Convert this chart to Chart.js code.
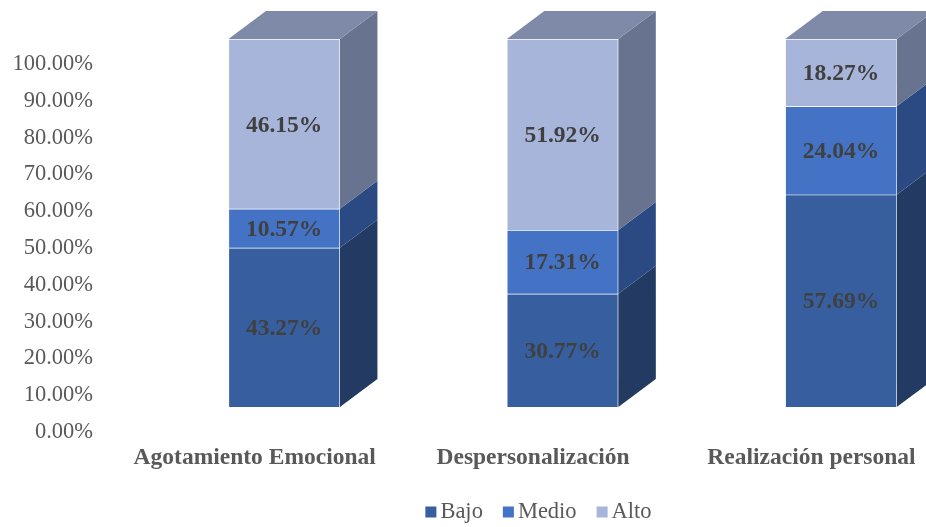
<!DOCTYPE html>
<html>
<head>
<meta charset="utf-8">
<script src="https://cdn.jsdelivr.net/npm/chart.js@4.4.1/dist/chart.umd.min.js"></script>
<style>
  html, body { margin: 0; padding: 0; background: #fff; }
  #wrap { width: 926px; height: 527px; position: relative; }
</style>
</head>
<body>
<div id="wrap"><canvas id="burnoutChart"></canvas></div>
<script>
// ── Data ───────────────────────────────────────────────
const categories = ["Agotamiento Emocional", "Despersonalización", "Realización personal"];
const levels     = ["Bajo", "Medio", "Alto"];
const bajo       = [43.27, 30.77, 57.69];
const medio      = [10.57, 17.31, 24.04];
const alto       = [46.15, 51.92, 18.27];
const yTicks     = [0, 10, 20, 30, 40, 50, 60, 70, 80, 90, 100];

// front / side / top face colours per level
const frontClr = ["#375f9f", "#4472c4", "#a7b5da"];
const sideClr  = ["#233b62", "#2b4a84", "#68748f"];
const topClr   = ["#2f5088", "#3a64ac", "#7f8aa8"];

const DEPTH_X = 37.5;
const DEPTH_Y = 28;
const serif = "'Liberation Serif', 'Times New Roman', serif";

// ── 3D faces + value labels ────────────────────────────
const boxes3d = {
  id: "boxes3d",
  afterDatasetsDraw(chart) {
    const ctx = chart.ctx;
    const last = chart.data.datasets.length - 1;
    ctx.save();
    chart.data.datasets.forEach(function (ds, di) {
      chart.getDatasetMeta(di).data.forEach(function (bar) {
        const p = bar.getProps(["x", "y", "base", "width"], true);
        const l = p.x - p.width / 2, r = p.x + p.width / 2;
        // side face
        ctx.beginPath();
        ctx.moveTo(r, p.y);
        ctx.lineTo(r + DEPTH_X, p.y - DEPTH_Y);
        ctx.lineTo(r + DEPTH_X, p.base - DEPTH_Y);
        ctx.lineTo(r, p.base);
        ctx.closePath();
        ctx.fillStyle = sideClr[di];
        ctx.fill();
        // top face on the highest segment
        if (di === last) {
          ctx.beginPath();
          ctx.moveTo(l, p.y);
          ctx.lineTo(l + DEPTH_X, p.y - DEPTH_Y);
          ctx.lineTo(r + DEPTH_X, p.y - DEPTH_Y);
          ctx.lineTo(r, p.y);
          ctx.closePath();
          ctx.fillStyle = topClr[di];
          ctx.fill();
        }
      });
    });
    // values on the front faces
    ctx.font = "bold 23.5px " + serif;
    ctx.fillStyle = "#404040";
    ctx.textAlign = "center";
    ctx.textBaseline = "middle";
    chart.data.datasets.forEach(function (ds, di) {
      chart.getDatasetMeta(di).data.forEach(function (bar, i) {
        const p = bar.getProps(["x", "y", "base"], true);
        ctx.fillText(ds.data[i].y.toFixed(2) + "%", p.x, (p.y + p.base) / 2 + 1.5);
      });
    });
    ctx.restore();
  }
};

// ── Legend (square + label, tight spacing) ────────────
const squareLegend = {
  id: "squareLegend",
  afterDraw(chart) {
    const ctx = chart.ctx;
    const box = 11, gap = 4, spacing = 20, cy = 512;
    ctx.save();
    ctx.font = "22.5px " + serif;
    const widths = levels.map(function (t) { return ctx.measureText(t).width; });
    let total = 0;
    widths.forEach(function (w, i) { total += box + gap + w + (i < widths.length - 1 ? spacing : 0); });
    let x = 538.5 - total / 2;
    ctx.textBaseline = "middle";
    ctx.textAlign = "left";
    levels.forEach(function (t, i) {
      ctx.fillStyle = frontClr[i];
      ctx.fillRect(x, cy - box / 2, box, box);
      ctx.fillStyle = "#595959";
      ctx.fillText(t, x + box + gap, cy);
      x += box + gap + widths[i] + spacing;
    });
    ctx.restore();
  }
};

const series = [bajo, medio, alto];

new Chart(document.getElementById("burnoutChart"), {
  type: "bar",
  data: {
    datasets: levels.map(function (name, i) {
      return {
        label: name,
        data: series[i].map(function (v, k) { return { x: k, y: v }; }),
        backgroundColor: frontClr[i],
        borderColor: "rgba(255,255,255,0.18)",
        borderWidth: 1,
        barThickness: 111.5,
      };
    })
  },
  options: {
    responsive: true,
    maintainAspectRatio: false,
    animation: false,
    layout: { padding: { top: 39, left: 0, right: 0, bottom: 0 } },
    plugins: {
      legend: { display: false },
      tooltip: { enabled: false }
    },
    scales: {
      x: {
        type: "linear",
        stacked: true,
        offset: false,
        min: -0.6616,
        max: 2.3054,
        grid: { display: false, drawTicks: false },
        border: { display: false },
        afterBuildTicks: function (s) { s.ticks = categories.map(function (c, i) { return { value: i }; }); },
        afterFit: function (s) { s.height = 120; s.paddingLeft = 0; s.paddingRight = 0; },
        ticks: {
          autoSkip: false,
          maxRotation: 0,
          padding: 36.5,
          labelOffset: -29.5,
          color: "#595959",
          font: { family: serif, size: 23.5, weight: "bold" },
          callback: function (v) { return categories[v]; }
        }
      },
      y: {
        stacked: true,
        min: 0,
        max: 100,
        grid: { display: false, drawTicks: false },
        border: { display: false },
        afterBuildTicks: function (s) { s.ticks = yTicks.map(function (v) { return { value: v }; }); },
        afterFit: function (s) { s.width = 100; s.paddingTop = 0; s.paddingBottom = 0; },
        ticks: {
          padding: 7,
          labelOffset: 25,
          color: "#595959",
          font: { family: serif, size: 22.5 },
          callback: function (v) { return v.toFixed(2) + "%"; }
        }
      }
    }
  },
  plugins: [boxes3d, squareLegend]
});
</script>
</body>
</html>
